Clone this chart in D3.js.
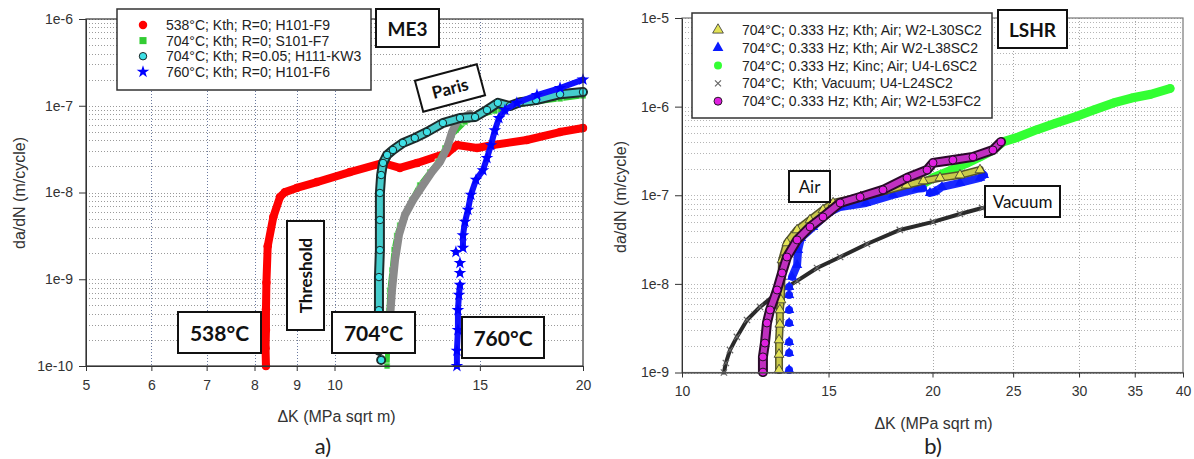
<!DOCTYPE html>
<html>
<head>
<meta charset="utf-8">
<script src="https://cdn.jsdelivr.net/npm/d3@7"></script>
<style>
  body { margin: 0; background: #fff; }
  svg { display: block; font-family: "Liberation Sans", Arial, sans-serif; }
  .tick text { fill: #333; font-size: 14px; }
  .box-label { font-family: Lato, "Noto Sans", sans-serif; font-weight: bold; fill: #111; }
</style>
</head>
<body>
<div id="chart"></div>
<script>
// ---------- tick values ----------
const xTicksA = [5, 6, 7, 8, 9, 10, 15, 20];
const yTicksA = [1e-10, 1e-9, 1e-8, 1e-7, 1e-6];
const yTickLabelsA = ["1e-10", "1e-9", "1e-8", "1e-7", "1e-6"];
const xTicksB = [10, 15, 20, 25, 30, 35, 40];
const yTicksB = [1e-9, 1e-8, 1e-7, 1e-6, 1e-5];
const yTickLabelsB = ["1e-9", "1e-8", "1e-7", "1e-6", "1e-5"];

// ---------- legends ----------
const legendLabelsA = [
  "538°C; Kth; R=0; H101-F9",
  "704°C; Kth; R=0; S101-F7",
  "704°C; Kth; R=0.05; H111-KW3",
  "760°C; Kth; R=0; H101-F6"
];
const legendLabelsB = [
  "704°C; 0.333 Hz; Kth; Air; W2-L30SC2",
  "704°C; 0.333 Hz; Kth; Air W2-L38SC2",
  "704°C; 0.333 Hz; Kinc; Air; U4-L6SC2",
  "704°C;  Kth; Vacuum; U4-L24SC2",
  "704°C; 0.333 Hz; Kth; Air; W2-L53FC2"
];

// ---------- ME3 series: [dK, da/dN]; null = gap between marker groups ----------
const me3_538 = [
  [8.26,1.0e-10],[8.25,1.6e-10],[8.26,2.6e-10],[8.26,4.5e-10],[8.27,9.1e-10],[8.30,2.4e-9],
  [8.43,5.2e-9],[8.59,8.9e-9],[8.71,1.01e-8],[9.0,1.13e-8],[9.52,1.32e-8],[10.44,1.72e-8],
  [11.45,2.19e-8],[12.0,1.92e-8],[12.59,2.19e-8],[13.69,2.85e-8],[14.08,3.53e-8],[14.88,3.26e-8],
  [15.56,3.53e-8],[17.1,4.03e-8],[18.76,4.98e-8],[20.0,5.54e-8]
];
const me3_704_S101 = [
  [11.58,1.0e-10],[11.61,2.0e-10],[11.64,4.4e-10],[11.67,7.5e-10],[11.74,1.28e-9],[11.81,2.2e-9],
  [11.90,3.2e-9],[12.0,4.2e-9],[12.17,5.5e-9],[12.41,8.2e-9],[12.69,1.22e-8],[13.05,1.72e-8],
  [13.35,2.25e-8],[13.61,3.26e-8],[13.88,4.6e-8],[14.39,6.5e-8],[15.0,7.8e-8],[15.64,8.7e-8],
  [16.31,9.7e-8],[17.25,1.08e-7],[18.76,1.2e-7],[20.0,1.3e-7]
];
const me3_704_S101_gray = [
  [11.67,3.4e-10],[11.74,7.5e-10],[11.84,1.67e-9],[11.97,3.24e-9],[12.17,5.5e-9],[12.45,8.2e-9],
  [12.80,1.22e-8],[13.12,1.72e-8],[13.42,2.25e-8],[13.69,3.26e-8],[13.88,4.98e-8],[14.11,6.85e-8],
  [14.59,8.04e-8]
];
const me3_704_H111 = [
  [11.39,1.17e-10], null,
  [11.32,1.5e-10],[11.32,4.4e-10],[11.32,1.06e-9],[11.35,2.17e-9],[11.35,4.82e-9],[11.35,9.87e-9],
  [11.39,1.59e-8],[11.45,2.19e-8],[11.58,2.71e-8],[11.77,3.09e-8],[12.10,3.72e-8],[12.51,4.25e-8],
  [12.94,4.98e-8],[13.53,6.33e-8],[14.19,7.22e-8],[14.80,7.41e-8],[15.30,8.93e-8],[15.77,1.08e-7],
  [16.31,9.93e-8],[16.78,1.10e-7],[17.54,1.16e-7],[18.76,1.36e-7],[20.0,1.44e-7]
];
const me3_760 = [
  [14.07,1.0e-10],[14.07,1.5e-10],[14.11,2.6e-10],[14.11,4.4e-10],[14.15,6.6e-10],[14.19,8.6e-10], null,
  [14.19,1.18e-9], null, [14.19,1.54e-9], null, [14.03,2.06e-9], null,
  [14.31,2.3e-9],[14.31,3.2e-9],[14.39,4.6e-9],[14.51,6.3e-9],[14.63,9.4e-9],[14.84,1.4e-8],
  [15.13,1.8e-8],[15.30,2.5e-8],[15.47,3.5e-8],[15.64,5.2e-8],[15.82,7.2e-8],[16.09,8.9e-8],
  [16.63,1.08e-7],[17.59,1.33e-7],[18.76,1.6e-7],[20.0,2.0e-7]
];

// ---------- LSHR series ----------
const lshr_L30 = [
  [13.08,1.07e-9],[13.08,1.6e-9],[13.08,2.33e-9],[13.11,3.5e-9],[13.11,5.08e-9],[13.15,6.58e-9],
  [13.17,1.2e-8],[13.19,1.86e-8],[13.37,2.90e-8],[13.75,4.06e-8],[14.25,5.26e-8],[14.77,6.83e-8],
  [15.19,8.18e-8],[16.4,9.6e-8],[17.4,1.1e-7],[18.6,1.3e-7],[19.5,1.45e-7],[20.42,1.57e-7],
  [21.58,1.69e-7],[22.81,1.93e-7]
];
const lshr_L38 = [
  [13.45,1.07e-9], null, [13.45,1.66e-9], null, [13.45,2.21e-9], null, [13.45,3.62e-9], null,
  [13.45,5.08e-9], null, [13.45,7.5e-9], null, [13.45,9.23e-9], null,
  [13.56,1.2e-8],[13.75,1.63e-8],[13.79,2.41e-8],[13.90,3.30e-8],[14.37,4.39e-8],[14.97,6.31e-8],
  [15.49,7.38e-8],[16.64,8.18e-8],[17.93,1.01e-7],[19.16,1.18e-7],[19.48,1.2e-7], null,
  [19.86,1.06e-7],[20.14,1.1e-7],[20.53,1.24e-7],[21.58,1.38e-7],[22.81,1.57e-7],[23.06,1.69e-7]
];
const lshr_L6 = [
  [18.2,1.1e-7],[18.8,1.2e-7],[19.5,1.35e-7],[20.1,1.6e-7],[21.0,1.9e-7],[22.0,2.3e-7],
  [22.8,2.7e-7],[23.6,3.2e-7],[24.3,4.0e-7],[25.3,4.5e-7],[26.7,5.5e-7],[28.1,6.5e-7],
  [29.7,7.7e-7],[31.3,9.2e-7],[33.0,1.1e-6],[34.7,1.25e-6],[36.6,1.38e-6],[38.6,1.6e-6]
];
const lshr_L24 = [
  [11.23,1.0e-9],[11.29,1.28e-9],[11.42,1.79e-9],[11.64,2.52e-9],[11.97,3.91e-9],[12.41,5.49e-9],
  [13.01,7.89e-9],[13.75,1.08e-8],[14.53,1.51e-8],[15.49,2.01e-8],[16.68,2.82e-8],[18.27,4.06e-8],
  [20.03,5.0e-8],[21.58,6.15e-8],[22.94,7.19e-8]
];
const lshr_L53 = [
  [12.51,1.01e-9],[12.51,1.5e-9],[12.58,2.15e-9],[12.65,3.62e-9],[12.76,5.08e-9],[13.01,8.53e-9],
  [13.19,1.33e-8],[13.37,2.01e-8],[13.75,3.13e-8],[14.25,4.39e-8],[14.77,5.69e-8],[15.49,8.18e-8],
  [16.37,9.57e-8],[17.44,1.15e-7],[18.64,1.57e-7],[19.70,1.93e-7],[20.03,2.32e-7],[21.16,2.5e-7],
  [22.37,2.71e-7],[23.64,3.24e-7],[24.17,4.0e-7]
];

/*******************************/
/*    Constants and scales     */
/*******************************/
const width = 1194;
const height = 459;
const panelA = {left: 86, top: 19, right: 583, bottom: 366};
const panelB = {left: 682, top: 18, right: 1183, bottom: 372.5};

const xA = d3.scaleLog().domain([5, 20]).range([panelA.left, panelA.right]);
const yA = d3.scaleLog().domain([1e-10, 1e-6]).range([panelA.bottom, panelA.top]);
const xB = d3.scaleLog().domain([10, 40]).range([panelB.left, panelB.right]);
const yB = d3.scaleLog().domain([1e-9, 1e-5]).range([panelB.bottom, panelB.top]);

const svg = d3.select("#chart")
  .append("svg")
    .attr("width", width)
    .attr("height", height)
    .attr("viewBox", `0 0 ${width} ${height}`);

svg.append("rect").attr("width", width).attr("height", height).attr("fill", "#fff");

// custom "x" marker
const symbolTimes = {
  draw(ctx, size) {
    const r = Math.sqrt(size) / 2;
    ctx.moveTo(-r, -r); ctx.lineTo(r, r);
    ctx.moveTo(r, -r); ctx.lineTo(-r, r);
  }
};

// minor values for log gridlines
const minorValues = (lo, hi) => {
  const out = [];
  for (let e = Math.log10(lo); e < Math.log10(hi); e++) {
    for (let m = 1; m <= 9; m++) out.push(m * Math.pow(10, e));
  }
  out.push(hi);
  return out;
};

const drawGrid = (p, x, y, xTicks, yDomain, hColor, vColor) => {
  const g = svg.append("g");
  g.selectAll(".h")
    .data(minorValues(yDomain[0], yDomain[1]))
    .join("line")
      .attr("x1", p.left).attr("x2", p.right)
      .attr("y1", d => Math.round(y(d)) + 0.5).attr("y2", d => Math.round(y(d)) + 0.5)
      .attr("stroke", hColor)
      .attr("stroke-dasharray", "1,2");
  g.selectAll(".v")
    .data(xTicks.slice(1, -1))
    .join("line")
      .attr("x1", d => Math.round(x(d)) + 0.5).attr("x2", d => Math.round(x(d)) + 0.5)
      .attr("y1", p.top).attr("y2", p.bottom)
      .attr("stroke", vColor)
      .attr("stroke-dasharray", "1,2");
};

const drawAxes = (p, x, y, xTicks, yTicks, yLabels, frameColor) => {
  svg.append("rect")
    .attr("x", p.left).attr("y", p.top)
    .attr("width", p.right - p.left).attr("height", p.bottom - p.top)
    .attr("fill", "none").attr("stroke", frameColor).attr("stroke-width", 1.2);

  const bottom = d3.axisBottom(x)
    .tickValues(xTicks)
    .tickFormat(d3.format("d"))
    .tickSize(5).tickSizeOuter(0).tickPadding(9);
  const gx = svg.append("g")
    .attr("transform", `translate(0, ${p.bottom})`)
    .call(bottom);
  gx.select(".domain").attr("stroke", "#333");
  gx.selectAll(".tick line").attr("stroke", "#333");

  const left = d3.axisLeft(y)
    .tickValues(yTicks)
    .tickFormat((d, i) => yLabels[i])
    .tickSize(7).tickSizeOuter(0).tickPadding(6);
  const gy = svg.append("g")
    .attr("transform", `translate(${p.left}, 0)`)
    .call(left);
  gy.select(".domain").attr("stroke", "#333");
  gy.selectAll(".tick line").attr("stroke", "#333");
  svg.selectAll(".tick text").attr("font-family", null).attr("font-size", null);
};

const drawSeries = (data, x, y, s) => {
  const g = svg.append("g");
  const line = d3.line()
    .defined(d => d)
    .x(d => x(d[0]))
    .y(d => y(d[1]));
  (s.bands || []).forEach(b => {
    g.append("path")
      .datum(data)
      .attr("d", line)
      .attr("fill", "none")
      .attr("stroke", b.color)
      .attr("stroke-width", b.width)
      .attr("stroke-linejoin", "round")
      .attr("stroke-linecap", "round");
  });
  g.selectAll(".m")
    .data(data.filter(d => d))
    .join("path")
      .attr("transform", d => `translate(${x(d[0])}, ${y(d[1])})`)
      .attr("d", d3.symbol(s.symbol, s.size))
      .attr("fill", s.fill)
      .attr("stroke", s.stroke || "none")
      .attr("stroke-width", s.strokeWidth || 0.8);
};

const drawBox = (cx, cy, w, h, label, size, rotateBox, rotateText, weight) => {
  const g = svg.append("g")
    .attr("transform", `translate(${cx}, ${cy}) rotate(${rotateBox})`);
  g.append("rect")
    .attr("x", -w / 2).attr("y", -h / 2)
    .attr("width", w).attr("height", h)
    .attr("fill", "#fff").attr("stroke", "#111").attr("stroke-width", 2);
  g.append("text")
    .attr("class", "box-label")
    .attr("transform", `rotate(${rotateText})`)
    .attr("text-anchor", "middle")
    .attr("dominant-baseline", "central")
    .attr("font-size", size)
    .style("font-weight", weight)
    .text(label);
};

const drawLegend = (bx, by, bw, bh, rows, labels, styles) => {
  svg.append("rect")
    .attr("x", bx).attr("y", by).attr("width", bw).attr("height", bh)
    .attr("fill", "#fff").attr("stroke", "#333").attr("stroke-width", 1.5);
  labels.forEach((lab, i) => {
    const s = styles[i];
    svg.append("path")
      .attr("transform", `translate(${rows.mx}, ${rows.y0 + i * rows.dy})`)
      .attr("d", d3.symbol(s.symbol, s.size))
      .attr("fill", s.fill)
      .attr("stroke", s.stroke || "none")
      .attr("stroke-width", s.strokeWidth || 0.8);
    svg.append("text")
      .attr("x", rows.tx)
      .attr("y", rows.y0 + i * rows.dy)
      .attr("dy", "0.36em")
      .attr("font-size", 14)
      .attr("fill", "#222")
      .style("white-space", "pre")
      .text(lab);
  });
};

/*******************************/
/*       Panel a) ME3          */
/*******************************/
drawGrid(panelA, xA, yA, xTicksA, [1e-10, 1e-6], "#9a9a9a", "#6b7aa0");

const stA = [
  {symbol: d3.symbolCircle, size: 56, fill: "#ff0000", bands: [{color: "#ff0000", width: 8}]},
  {symbol: d3.symbolSquare, size: 36, fill: "#33cc33", stroke: "#fff", strokeWidth: 0.6},
  {symbol: d3.symbolCircle, size: 44, fill: "#3ee0e6", stroke: "#111", strokeWidth: 0.9,
    bands: [{color: "#1d2b2b", width: 10}, {color: "#45cccc", width: 6}]},
  {symbol: d3.symbolStar, size: 50, fill: "#0000ff", bands: [{color: "#1010ff", width: 6}]}
];

drawSeries(me3_538, xA, yA, stA[0]);
drawSeries(me3_704_S101, xA, yA, {...stA[1], bands: [{color: "#33cc33", width: 5}]});
drawSeries(me3_704_S101_gray, xA, yA, {symbol: d3.symbolSquare, size: 30, fill: "#8a8a8a",
  bands: [{color: "#8a8a8a", width: 8}]});
drawSeries(me3_704_H111, xA, yA, stA[2]);
drawSeries(me3_760, xA, yA, stA[3]);

drawAxes(panelA, xA, yA, xTicksA, yTicksA, yTickLabelsA, "#333");

drawLegend(117, 9, 254, 81, {mx: 143, tx: 166, y0: 25, dy: 15.6}, legendLabelsA,
  [stA[0], {symbol: d3.symbolSquare, size: 50, fill: "#33cc33"}, stA[2], stA[3]]);

drawBox(407.5, 28, 63, 38, "ME3", 19, 0, 0, "bold");
drawBox(450, 88, 64, 32, "Paris", 17, -15, 0, "bold");
drawBox(305.5, 275.5, 37, 109, "Threshold", 17, 0, -90, "bold");
drawBox(219.5, 332.5, 83, 41, "538°C", 21, 0, 0, "bold");
drawBox(373.5, 332.5, 83, 41, "704°C", 21, 0, 0, "bold");
drawBox(503, 337.5, 82, 41, "760°C", 21, 0, 0, "bold");

svg.append("text")
  .attr("x", (panelA.left + panelA.right) / 2 + 2).attr("y", 422)
  .attr("text-anchor", "middle").attr("font-size", 16).attr("fill", "#333")
  .text("ΔK (MPa sqrt m)");
svg.append("text")
  .attr("transform", `translate(25, 193) rotate(-90)`)
  .attr("text-anchor", "middle").attr("font-size", 16).attr("fill", "#333")
  .text("da/dN (m/cycle)");
svg.append("text")
  .attr("x", 323).attr("y", 454)
  .attr("text-anchor", "middle").attr("font-size", 22).attr("fill", "#222")
  .attr("font-family", "Lato, 'Noto Sans', sans-serif")
  .text("a)");

/*******************************/
/*       Panel b) LSHR         */
/*******************************/
drawGrid(panelB, xB, yB, xTicksB, [1e-9, 1e-5], "#b5b5b5", "#a8a8a8");

const stB = [
  {symbol: d3.symbolTriangle, size: 42, fill: "#e3e356", stroke: "#333", strokeWidth: 0.8,
    bands: [{color: "#55552a", width: 8}, {color: "#c9c94a", width: 5}]},
  {symbol: d3.symbolTriangle, size: 46, fill: "#0a1aff", bands: [{color: "#1a2aff", width: 8}]},
  {symbol: d3.symbolCircle, size: 56, fill: "#33ff33", bands: [{color: "#33ff33", width: 9}]},
  {symbol: symbolTimes, size: 40, fill: "none", stroke: "#666", strokeWidth: 1.2,
    bands: [{color: "#2a2a2a", width: 4}]},
  {symbol: d3.symbolCircle, size: 50, fill: "#e020e0", stroke: "#111", strokeWidth: 0.9,
    bands: [{color: "#2a0a2a", width: 10}, {color: "#c030c0", width: 6}]}
];

drawSeries(lshr_L24, xB, yB, stB[3]);
drawSeries(lshr_L6, xB, yB, stB[2]);
drawSeries(lshr_L38, xB, yB, stB[1]);
drawSeries(lshr_L30, xB, yB, stB[0]);
drawSeries(lshr_L53, xB, yB, stB[4]);

drawAxes(panelB, xB, yB, xTicksB, yTicksB, yTickLabelsB, "#777");

drawLegend(692, 13, 300, 105, {mx: 718, tx: 742, y0: 30, dy: 17.8}, legendLabelsB,
  [{...stB[0], size: 50}, {...stB[1], size: 50}, {...stB[2], size: 50}, {...stB[3], size: 36}, stB[4]]);

drawBox(1032.5, 29, 69, 38, "LSHR", 19, 0, 0, "bold");
drawBox(809.5, 186.5, 41, 31, "Air", 17, 0, 0, "normal");
drawBox(1022.5, 201.5, 75, 31, "Vacuum", 17, 0, 0, "normal");

svg.append("text")
  .attr("x", (panelB.left + panelB.right) / 2 + 1).attr("y", 429)
  .attr("text-anchor", "middle").attr("font-size", 16).attr("fill", "#333")
  .text("ΔK (MPa sqrt m)");
svg.append("text")
  .attr("transform", `translate(626, 197) rotate(-90)`)
  .attr("text-anchor", "middle").attr("font-size", 16).attr("fill", "#333")
  .text("da/dN (m/cycle)");
svg.append("text")
  .attr("x", 933).attr("y", 454)
  .attr("text-anchor", "middle").attr("font-size", 22).attr("fill", "#222")
  .attr("font-family", "Lato, 'Noto Sans', sans-serif")
  .text("b)");
</script>
</body>
</html>
